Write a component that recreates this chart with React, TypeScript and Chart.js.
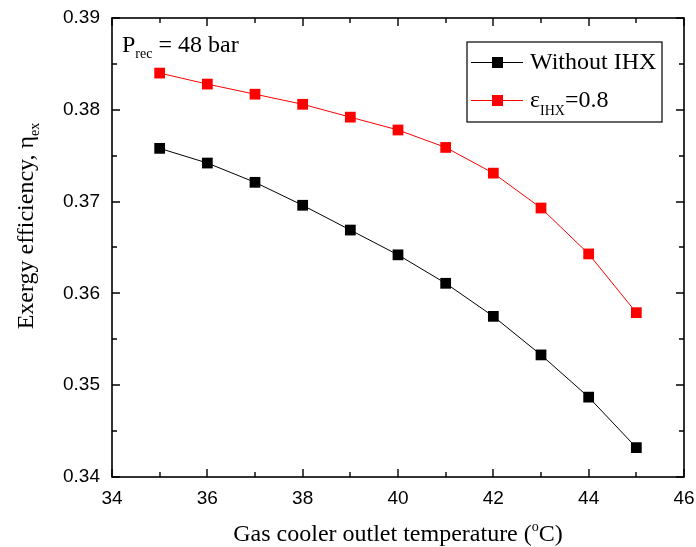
import React, { useEffect, useRef } from "react";
import { Chart, registerables } from "chart.js";

Chart.register(...registerables);

const temperatures = [35, 36, 37, 38, 39, 40, 41, 42, 43, 44, 45];
const withoutIHX = [0.3758, 0.3742, 0.3721, 0.3696, 0.3669, 0.3642, 0.3611, 0.3575, 0.3533, 0.3487, 0.3432];
const withIHX = [0.3840, 0.3828, 0.3817, 0.3806, 0.3792, 0.3778, 0.3759, 0.3731, 0.3693, 0.3643, 0.3579];
const seriesNames = ["Without IHX", "ε|IHX|=0.8"];
const xTitle = "Gas cooler outlet temperature (";
const yTitle = "Exergy efficiency, η";
const annotation = "P";

const SERIF = "'Liberation Serif', 'Times New Roman', serif";
const SANS = "'Liberation Sans', Arial, sans-serif";

type Seg = { t: string; size: number; dy: number };

function drawSegs(ctx: CanvasRenderingContext2D, segs: Seg[], x: number, y: number) {
  let cx = x;
  for (const s of segs) {
    ctx.font = `${s.size}px ${SERIF}`;
    ctx.fillText(s.t, cx, y + s.dy);
    cx += ctx.measureText(s.t).width;
  }
  return cx;
}

function segWidth(ctx: CanvasRenderingContext2D, segs: Seg[]) {
  let w = 0;
  for (const s of segs) {
    ctx.font = `${s.size}px ${SERIF}`;
    w += ctx.measureText(s.t).width;
  }
  return w;
}

const decorPlugin = {
  id: "decor",
  afterDraw(chart: any) {
    const ctx: CanvasRenderingContext2D = chart.ctx;
    const { left, right, top, bottom } = chart.chartArea;
    const xs = chart.scales.x;
    const ys = chart.scales.y;
    ctx.save();
    ctx.strokeStyle = "#000";
    ctx.fillStyle = "#000";
    // frame
    ctx.lineWidth = 1.6;
    ctx.strokeRect(left, top, right - left, bottom - top);
    // ticks
    ctx.lineWidth = 1.4;
    ctx.beginPath();
    for (let v = 34; v <= 46; v += 1) {
      const px = Math.round(xs.getPixelForValue(v));
      const len = v % 2 === 0 ? 8 : 5;
      ctx.moveTo(px, bottom);
      ctx.lineTo(px, bottom - len);
      ctx.moveTo(px, top);
      ctx.lineTo(px, top + len);
    }
    for (let i = 0; i <= 10; i++) {
      const v = 0.34 + i * 0.005;
      const py = Math.round(ys.getPixelForValue(v));
      const len = i % 2 === 0 ? 8 : 5;
      ctx.moveTo(left, py);
      ctx.lineTo(left + len, py);
      ctx.moveTo(right, py);
      ctx.lineTo(right - len, py);
    }
    ctx.stroke();

    ctx.textBaseline = "alphabetic";
    ctx.textAlign = "left";
    // annotation P_rec = 48 bar
    drawSegs(
      ctx,
      [
        { t: annotation, size: 24, dy: 0 },
        { t: "rec", size: 14, dy: 6 },
        { t: " = 48 bar", size: 24, dy: 0 },
      ],
      122,
      52
    );

    // x title
    const xsegs: Seg[] = [
      { t: xTitle, size: 24, dy: 0 },
      { t: "o", size: 14, dy: -10 },
      { t: "C)", size: 24, dy: 0 },
    ];
    const xw = segWidth(ctx, xsegs);
    drawSegs(ctx, xsegs, (left + right) / 2 - xw / 2, 541);

    // y title
    const ysegs: Seg[] = [
      { t: yTitle, size: 24, dy: 0 },
      { t: "ex", size: 14, dy: 6 },
    ];
    const yw = segWidth(ctx, ysegs);
    ctx.save();
    ctx.translate(33, 226);
    ctx.rotate(-Math.PI / 2);
    drawSegs(ctx, ysegs, -yw / 2, 0);
    ctx.restore();

    // legend
    const bx = 467, by = 42, bw = 195, bh = 80;
    ctx.lineWidth = 1.2;
    ctx.strokeRect(bx, by, bw, bh);
    const rows = [
      { color: "#000000", y: 62, segs: [{ t: seriesNames[0], size: 24, dy: 0 }] as Seg[] },
      {
        color: "#ff0000",
        y: 100,
        segs: (() => {
          const p = seriesNames[1].split("|");
          return [
            { t: p[0], size: 24, dy: 0 },
            { t: p[1], size: 14, dy: 8 },
            { t: p[2], size: 24, dy: 0 },
          ] as Seg[];
        })(),
      },
    ];
    for (const r of rows) {
      ctx.strokeStyle = r.color;
      ctx.lineWidth = 1;
      ctx.beginPath();
      ctx.moveTo(471, r.y + 0.5);
      ctx.lineTo(523, r.y + 0.5);
      ctx.stroke();
      ctx.fillStyle = r.color;
      ctx.fillRect(492, r.y - 5, 11, 11);
      ctx.fillStyle = "#000";
      drawSegs(ctx, r.segs, 530, r.y + 7);
    }
    ctx.restore();
  },
};

export default function App() {
  const canvasRef = useRef<HTMLCanvasElement | null>(null);

  useEffect(() => {
    document.body.style.margin = "0";
    const canvas = canvasRef.current!;
    const chart = new Chart(canvas, {
      type: "line",
      data: {
        labels: temperatures,
        datasets: [
          {
            label: "Without IHX",
            data: temperatures.map((t, i) => ({ x: t, y: withoutIHX[i] })),
            borderColor: "#000000",
            backgroundColor: "#000000",
            borderWidth: 1,
            pointStyle: "rect",
            pointRadius: 7.6,
            pointBorderWidth: 0,
            pointBackgroundColor: "#000000",
            tension: 0,
          },
          {
            label: "εIHX=0.8",
            data: temperatures.map((t, i) => ({ x: t, y: withIHX[i] })),
            borderColor: "#ff0000",
            backgroundColor: "#ff0000",
            borderWidth: 1,
            pointStyle: "rect",
            pointRadius: 7.6,
            pointBorderWidth: 0,
            pointBackgroundColor: "#ff0000",
            tension: 0,
          },
        ],
      },
      options: {
        animation: false,
        responsive: false,
        maintainAspectRatio: false,
        layout: { padding: { left: 0, right: 12, top: 18, bottom: 0 } },
        plugins: {
          legend: { display: false },
          tooltip: { enabled: false },
          title: { display: false },
        },
        scales: {
          x: {
            type: "linear",
            min: 34,
            max: 46,
            grid: { display: false, drawTicks: false },
            border: { display: false },
            ticks: {
              stepSize: 2,
              padding: 10,
              color: "#000",
              font: { family: SANS, size: 19 },
              maxRotation: 0,
            },
            afterFit: (s: any) => {
              s.height = 70;
              s.paddingLeft = 0;
              s.paddingRight = 0;
            },
          },
          y: {
            type: "linear",
            min: 0.34,
            max: 0.39,
            grid: { display: false, drawTicks: false },
            border: { display: false },
            ticks: {
              stepSize: 0.01,
              padding: 12,
              color: "#000",
              font: { family: SANS, size: 19 },
              callback: (v: any) => Number(v).toFixed(2),
            },
            afterFit: (s: any) => {
              s.width = 112;
              s.paddingTop = 0;
              s.paddingBottom = 0;
            },
          },
        },
      },
      plugins: [decorPlugin],
    });
    return () => chart.destroy();
  }, []);

  return (
    <div style={{ position: "absolute", left: 0, top: 0, width: 696, height: 547, background: "#fff" }}>
      <canvas ref={canvasRef} width={696} height={547} style={{ width: 696, height: 547 }} />
    </div>
  );
}
